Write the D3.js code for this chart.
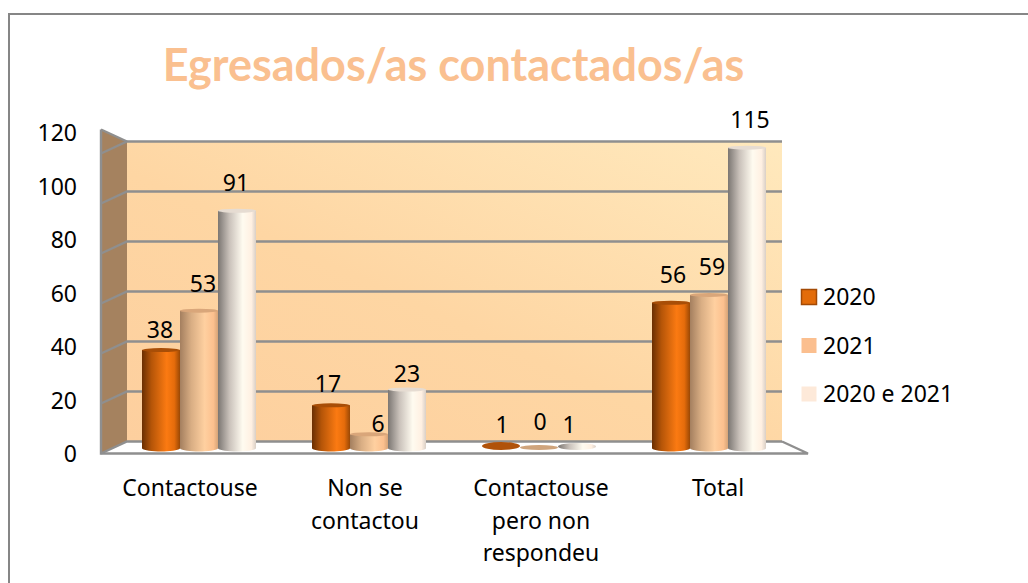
<!DOCTYPE html>
<html><head><meta charset="utf-8">
<script src="https://cdn.jsdelivr.net/npm/d3@7"></script>
<style>html,body{margin:0;padding:0;background:#fff}svg{display:block}text{fill:#000;font-family:"Noto Sans",sans-serif}</style>
</head><body><svg id="c" width="1028" height="583"></svg>
<script>
const titleText = "Egresados/as contactados/as";
const categories = [["Contactouse"],["Non se","contactou"],["Contactouse","pero non","respondeu"],["Total"]];
const categoryKeys = ["Contactouse","Non se contactou","Contactouse pero non respondeu","Total"];
const seriesNames = ["2020","2021","2020 e 2021"];
const values2020 = [38,17,1,56];
const values2021 = [53,6,0,59];
const valuesBoth = [91,23,1,115];
const allSeries = [values2020,values2021,valuesBoth];
const yTicks = [0,20,40,60,80,100,120];
const legendColors = ["#e36c0a","#fbbf8f","#fde9d9"];
const labelGapY = [[12,13,14,20],[19,2,20,20],[20,8,14,20]];
const labelNudgeX = [[-1,-3,1,2],[4,9,1,3],[-1,0,-8,3]];
const categoryNudgeX = [-9,-4,2,9];
const flatDiscRy = [4,2.5,3.5];

const svg = d3.select("#c");
const defs = svg.append("defs");
const line = d3.line();

// chart frame: only the top and left edges fall inside the picture
svg.append("path").attr("d",line([[9,583],[9,14],[1028,14]]))
  .attr("fill","none").attr("stroke","#868686").attr("stroke-width",2);

// title
svg.append("text").attr("x",453.5).attr("y",81).attr("text-anchor","middle")
  .style("font-family","Lato, sans-serif").style("font-weight",700).style("font-size","45px")
  .style("fill","#fac090").text(titleText);

// scales
const yBack = d3.scaleLinear().domain([0,120]).range([441.5,141.5]);
const depthX = 26, depthY = 12;
const yBar = d3.scaleLinear().domain([0,120]).range([450,134.5]);
const yLabel = d3.scaleLinear().domain([0,120]).range([454,133]);
const x0 = d3.scaleBand().domain(categoryKeys).range([114,794]);
const x1 = d3.scaleBand().domain(seriesNames).range([28,142]);

// wall gradient
const wg = defs.append("linearGradient").attr("id","wall")
  .attr("x1","0").attr("y1","1").attr("x2","1").attr("y2","0");
wg.append("stop").attr("offset","0").attr("stop-color","#fdcf9e");
wg.append("stop").attr("offset","0.45").attr("stop-color","#fed6a3");
wg.append("stop").attr("offset","1").attr("stop-color","#ffe9bd");

const L = 127, R = 782;
svg.append("rect").attr("x",L).attr("y",yBack(120)).attr("width",R-L).attr("height",yBack(0)-yBack(120)).attr("fill","url(#wall)");
svg.append("path").attr("d",line([[L-depthX,yBack(120)-depthY],[L,yBack(120)],[L,yBack(0)],[L-depthX,yBack(0)+depthY]]))
  .attr("fill","#a5825f");
svg.append("path").attr("d",line([[L-depthX,yBack(0)+depthY],[L,yBack(0)],[R,yBack(0)],[R+depthX,yBack(0)+depthY]]))
  .attr("fill","#fff");

// gridlines
const gridColor = "#8f8f8f";
svg.append("g").selectAll("path").data(yTicks).join("path")
  .attr("d",d=>line([[L-depthX,yBack(d)+depthY],[L,yBack(d)],[R,yBack(d)]]))
  .attr("fill","none").attr("stroke",gridColor).attr("stroke-width",2.4);
svg.append("path").attr("d",line([[L-depthX,yBack(120)-depthY],[L-depthX,yBack(0)+depthY],[R+depthX,yBack(0)+depthY],[R,yBack(0)]]))
  .attr("fill","none").attr("stroke",gridColor).attr("stroke-width",2.4);
svg.append("path").attr("d",line([[L-depthX,yBack(120)-depthY],[L,yBack(120)]]))
  .attr("fill","none").attr("stroke",gridColor).attr("stroke-width",2.4);

// y tick labels
svg.append("g").selectAll("text").data(yTicks).join("text")
  .attr("x",77).attr("y",d=>yLabel(d)+8).attr("text-anchor","end")
  .style("font-size","23px").text(d=>d);

// bar gradients
const barStops = [
  [[0,"#6a2f02"],[0.25,"#b55508"],[0.65,"#fb7a12"],[0.85,"#e56c0b"],[1,"#9a4805"]],
  [[0,"#a47f5f"],[0.3,"#d9ae84"],[0.65,"#ffd0a0"],[0.88,"#fcc08e"],[1,"#d6a478"]],
  [[0,"#7b7672"],[0.3,"#c9c1ba"],[0.65,"#fffbf0"],[0.88,"#fff0e2"],[1,"#d9cfc6"]]
];
barStops.forEach((stops,i)=>{
  const g = defs.append("linearGradient").attr("id","bar"+i).attr("x1","0").attr("x2","1").attr("y1","0").attr("y2","0");
  stops.forEach(s=>g.append("stop").attr("offset",s[0]).attr("stop-color",s[1]));
});
const capColors = ["#a84e07","#d9a67a","#e6dcd2"];
const discFills = ["#b0520a","#cfa47c","url(#bar2)"];

function cylinder(x,w,top,bottom,ry){
  const p = d3.path();
  p.moveTo(x,top);
  p.lineTo(x,bottom-ry);
  p.bezierCurveTo(x+w*0.1,bottom+ry*0.35,x+w*0.9,bottom+ry*0.35,x+w,bottom-ry);
  p.lineTo(x+w,top);
  p.closePath();
  return p.toString();
}
seriesNames.forEach((name,s)=>{
  const g = svg.append("g");
  const bw = x1.bandwidth();
  const data = allSeries[s].map((v,c)=>({v,c,key:categoryKeys[c]}));
  // tall bars are a body plus a cap; values under 2 collapse to a flat disc
  g.selectAll("path.b").data(data.filter(d=>d.v>=2)).join("path").attr("class","b")
    .attr("d",d=>cylinder(x0(d.key)+x1(name),bw,yBar(d.v),yBar(0)+1.5,3))
    .attr("fill",`url(#bar${s})`);
  g.selectAll("ellipse").data(data).join("ellipse")
    .attr("cx",d=>x0(d.key)+x1(name)+bw/2)
    .attr("cy",d=>d.v<2?yBar(0)-flatDiscRy[s]:yBar(d.v))
    .attr("rx",bw/2).attr("ry",d=>d.v<2?flatDiscRy[s]:2)
    .attr("fill",d=>d.v<2?discFills[s]:capColors[s]);
});
// data labels
seriesNames.forEach((name,s)=>{
  svg.append("g").selectAll("text").data(allSeries[s].map((v,c)=>({v,c}))).join("text")
    .attr("x",d=>x0(categoryKeys[d.c])+x1(name)+x1.bandwidth()/2+labelNudgeX[s][d.c])
    .attr("y",d=>yBar(d.v)-labelGapY[s][d.c])
    .attr("text-anchor","middle").style("font-size","23px").text(d=>d.v);
});

// category labels
const catG = svg.append("g");
categories.forEach((lines,c)=>{
  const cx = x0(categoryKeys[c])+x0.bandwidth()/2+categoryNudgeX[c];
  lines.forEach((t,i)=>{
    catG.append("text").attr("x",cx).attr("y",496+i*32.5).attr("text-anchor","middle").style("font-size","23px").text(t);
  });
});

// legend
const legY = d3.scalePoint().domain(seriesNames).range([297,394]);
const leg = svg.append("g");
seriesNames.forEach((name,i)=>{
  leg.append("rect").attr("x",801.5).attr("y",legY(name)-7.5).attr("width",15).attr("height",15)
    .attr("fill",legendColors[i]).attr("stroke",i===0?"#a34a05":"none").attr("stroke-width",1.5);
  leg.append("text").attr("x",823).attr("y",legY(name)+8).style("font-size","23px").text(name);
});
</script></body></html>
